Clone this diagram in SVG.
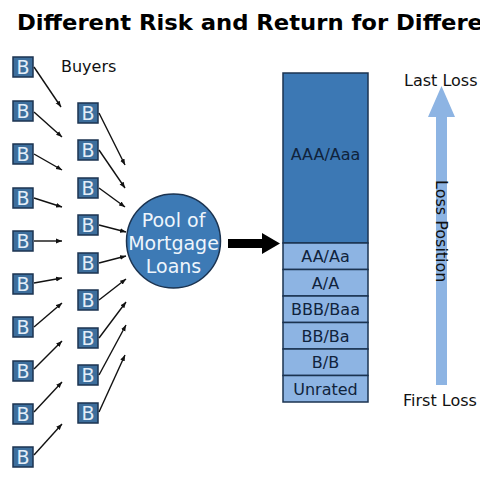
<svg xmlns="http://www.w3.org/2000/svg" width="480" height="480" viewBox="0 0 480 480">
<style>
.b rect{fill:#3d6e9c;stroke:#1b3350;stroke-width:1.5}
.b text{font-family:"DejaVu Sans",Verdana,sans-serif;font-size:19px;fill:#e4eef9;text-anchor:middle}
.c line{stroke:#111;stroke-width:1.4;marker-end:url(#ah)}
.lbl{font-family:"DejaVu Sans",Verdana,sans-serif;font-size:16px;fill:#111}
.t rect{stroke:#1b3350;stroke-width:1.5}
.t text{font-family:"DejaVu Sans",Verdana,sans-serif;font-size:16px;fill:#10233c;text-anchor:middle}
</style>
<defs>
<marker id="ah" viewBox="0 0 10 10" refX="10" refY="5" markerWidth="6" markerHeight="6" markerUnits="userSpaceOnUse" orient="auto">
<path d="M0,1 L10,5 L0,9 Z" fill="#111"/>
</marker>
</defs>
<rect width="480" height="480" fill="#fff"/>
<text x="17" y="29.5" font-family="DejaVu Sans,Verdana,sans-serif" font-weight="bold" font-size="22" fill="#000" textLength="466" lengthAdjust="spacingAndGlyphs">Different Risk and Return for Differe</text>
<text id="buyers" class="lbl" x="61" y="72">Buyers</text>

<g id="col1">
<g id="b1" class="b" transform="translate(23,67)"><rect x="-10" y="-10" width="20" height="20"/><text y="7">B</text></g>
<g id="b2" class="b" transform="translate(23,111)"><rect x="-10" y="-10" width="20" height="20"/><text y="7">B</text></g>
<g id="b3" class="b" transform="translate(23,154)"><rect x="-10" y="-10" width="20" height="20"/><text y="7">B</text></g>
<g id="b4" class="b" transform="translate(23,198)"><rect x="-10" y="-10" width="20" height="20"/><text y="7">B</text></g>
<g id="b5" class="b" transform="translate(23,241)"><rect x="-10" y="-10" width="20" height="20"/><text y="7">B</text></g>
<g id="b6" class="b" transform="translate(23,284)"><rect x="-10" y="-10" width="20" height="20"/><text y="7">B</text></g>
<g id="b7" class="b" transform="translate(23,327)"><rect x="-10" y="-10" width="20" height="20"/><text y="7">B</text></g>
<g id="b8" class="b" transform="translate(23,371)"><rect x="-10" y="-10" width="20" height="20"/><text y="7">B</text></g>
<g id="b9" class="b" transform="translate(23,414)"><rect x="-10" y="-10" width="20" height="20"/><text y="7">B</text></g>
<g id="b10" class="b" transform="translate(23,457)"><rect x="-10" y="-10" width="20" height="20"/><text y="7">B</text></g>
</g>
<g id="col2">
<g id="c1" class="b" transform="translate(88,113)"><rect x="-10" y="-10" width="20" height="20"/><text y="7">B</text></g>
<g id="c2" class="b" transform="translate(88,150)"><rect x="-10" y="-10" width="20" height="20"/><text y="7">B</text></g>
<g id="c3" class="b" transform="translate(88,188)"><rect x="-10" y="-10" width="20" height="20"/><text y="7">B</text></g>
<g id="c4" class="b" transform="translate(88,225)"><rect x="-10" y="-10" width="20" height="20"/><text y="7">B</text></g>
<g id="c5" class="b" transform="translate(88,263)"><rect x="-10" y="-10" width="20" height="20"/><text y="7">B</text></g>
<g id="c6" class="b" transform="translate(88,300)"><rect x="-10" y="-10" width="20" height="20"/><text y="7">B</text></g>
<g id="c7" class="b" transform="translate(88,338)"><rect x="-10" y="-10" width="20" height="20"/><text y="7">B</text></g>
<g id="c8" class="b" transform="translate(88,375)"><rect x="-10" y="-10" width="20" height="20"/><text y="7">B</text></g>
<g id="c9" class="b" transform="translate(88,413)"><rect x="-10" y="-10" width="20" height="20"/><text y="7">B</text></g>
</g>

<g id="connectors" class="c">
<line x1="34" y1="67" x2="61" y2="107"/>
<line x1="34" y1="112" x2="62" y2="137"/>
<line x1="34" y1="154" x2="62" y2="170"/>
<line x1="34" y1="198" x2="62" y2="207"/>
<line x1="34" y1="241" x2="62" y2="241"/>
<line x1="34" y1="283" x2="62" y2="278"/>
<line x1="34" y1="327" x2="62" y2="303"/>
<line x1="34" y1="369" x2="62" y2="341"/>
<line x1="34" y1="412" x2="62" y2="382"/>
<line x1="34" y1="455" x2="62" y2="424"/>
<line x1="99" y1="113" x2="125" y2="165"/>
<line x1="99" y1="150" x2="125" y2="188"/>
<line x1="99" y1="188" x2="125" y2="207"/>
<line x1="99" y1="225" x2="126" y2="232"/>
<line x1="99" y1="263" x2="126" y2="256"/>
<line x1="99" y1="300" x2="126" y2="279"/>
<line x1="99" y1="338" x2="126" y2="302"/>
<line x1="99" y1="375" x2="126" y2="325"/>
<line x1="99" y1="412" x2="125" y2="355"/>
<path id="bigarrow" d="M228,239 L262,239 L262,233 L280,243.5 L262,254 L262,248 L228,248 Z" fill="#000"/>
</g>

<g id="pool">
<circle cx="173.5" cy="241" r="47" fill="#3d7ab5" stroke="#1b3350" stroke-width="1.5"/>
<g font-family="DejaVu Sans,Verdana,sans-serif" font-size="19" fill="#eef5fc" text-anchor="middle">
<text x="173.5" y="227">Pool of</text>
<text x="173.5" y="250">Mortgage</text>
<text x="173.5" y="273">Loans</text>
</g>
</g>

<g id="tranches" class="t">
<g id="aaa"><rect x="283" y="73" width="85" height="170" fill="#3c78b4"/><text x="325.5" y="160">AAA/Aaa</text></g>
<g id="aa"><rect x="283" y="243" width="85" height="26.5" fill="#8db4e3"/><text x="325.5" y="262">AA/Aa</text></g>
<g id="a"><rect x="283" y="269.5" width="85" height="26.5" fill="#8db4e3"/><text x="325.5" y="288.5">A/A</text></g>
<g id="bbb"><rect x="283" y="296" width="85" height="26.5" fill="#8db4e3"/><text x="325.5" y="315">BBB/Baa</text></g>
<g id="bb"><rect x="283" y="322.5" width="85" height="26.5" fill="#8db4e3"/><text x="325.5" y="341.5">BB/Ba</text></g>
<g id="bbr"><rect x="283" y="349" width="85" height="26.5" fill="#8db4e3"/><text x="325.5" y="368">B/B</text></g>
<g id="unr"><rect x="283" y="375.5" width="85" height="26.5" fill="#8db4e3"/><text x="325.5" y="394.5">Unrated</text></g>
</g>

<g id="loss">
<path d="M436,385 L436,117 L428,117 L441.5,86 L455,117 L447,117 L447,385 Z" fill="#8db4e3"/>
<text class="lbl" transform="translate(436,180) rotate(90)" x="0" y="0">Loss Position</text>
<text class="lbl" x="404" y="86" font-size="16.5">Last Loss</text>
<text class="lbl" x="403" y="406" font-size="16.5">First Loss</text>
</g>
</svg>
